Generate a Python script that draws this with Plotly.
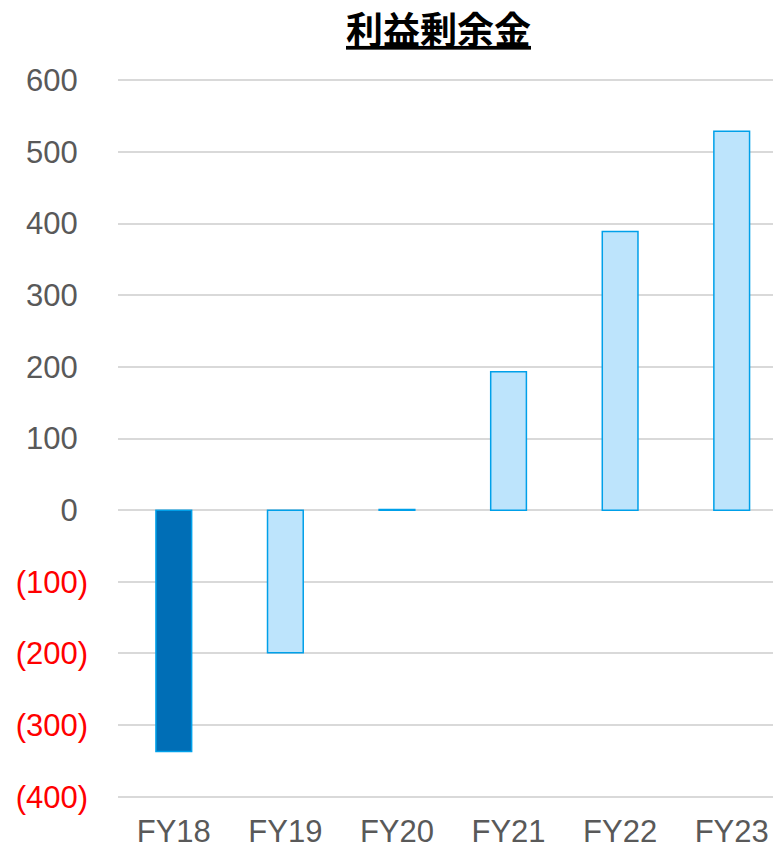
import plotly.graph_objects as go

categories = ["FY18", "FY19", "FY20", "FY21", "FY22", "FY23"]
values = [-337, -199, 1, 193, 389, 529]
fill_colors = ["#006EB6", "#BDE4FC", "#BDE4FC", "#BDE4FC", "#BDE4FC", "#BDE4FC"]
tick_vals = [600, 500, 400, 300, 200, 100, 0, -100, -200, -300, -400]
pad = "<span style='color:rgba(0,0,0,0)'>)</span>"
tick_text = ["600" + pad, "500" + pad, "400" + pad, "300" + pad, "200" + pad,
             "100" + pad, "0" + pad,
             "<span style='color:#FF0000'>(100)</span>",
             "<span style='color:#FF0000'>(200)</span>",
             "<span style='color:#FF0000'>(300)</span>",
             "<span style='color:#FF0000'>(400)</span>"]

W, H = 773, 850

fig = go.Figure()
fig.add_trace(go.Bar(
    x=categories, y=values,
    marker=dict(color=fill_colors, line=dict(color="#00A0E9", width=1.5)),
    width=0.32,
))

fig.update_layout(
    width=W, height=H,
    margin=dict(l=118, r=0, t=76, b=49),
    plot_bgcolor="white", paper_bgcolor="white",
    showlegend=False,
    title=dict(text="<b><u>利益剰余金</u></b>", x=438.5 / W, xanchor="center",
               y=1 - 31 / H, yanchor="middle",
               font=dict(family="Noto Sans CJK JP", size=37, color="#000000")),
    font=dict(family="Liberation Sans, Arial", size=31, color="#595959"),
)
fig.update_xaxes(range=[-0.5, 5.37], showgrid=False, showline=False, ticks="",
                 ticklabelstandoff=9, automargin=False,
                 tickfont=dict(size=31, color="#595959"))
fig.update_yaxes(range=[-406, 606], tickvals=tick_vals, ticktext=tick_text,
                 showgrid=True, gridcolor="#D9D9D9", gridwidth=1.5,
                 zeroline=True, zerolinecolor="#D9D9D9", zerolinewidth=1.5,
                 showline=False, ticks="", ticklabelstandoff=29, automargin=False,
                 tickfont=dict(size=31, color="#595959"))

fig.write_html("out.html", config={"displayModeBar": False},
               post_script="document.body.style.margin='0';document.body.style.overflow='hidden';")
